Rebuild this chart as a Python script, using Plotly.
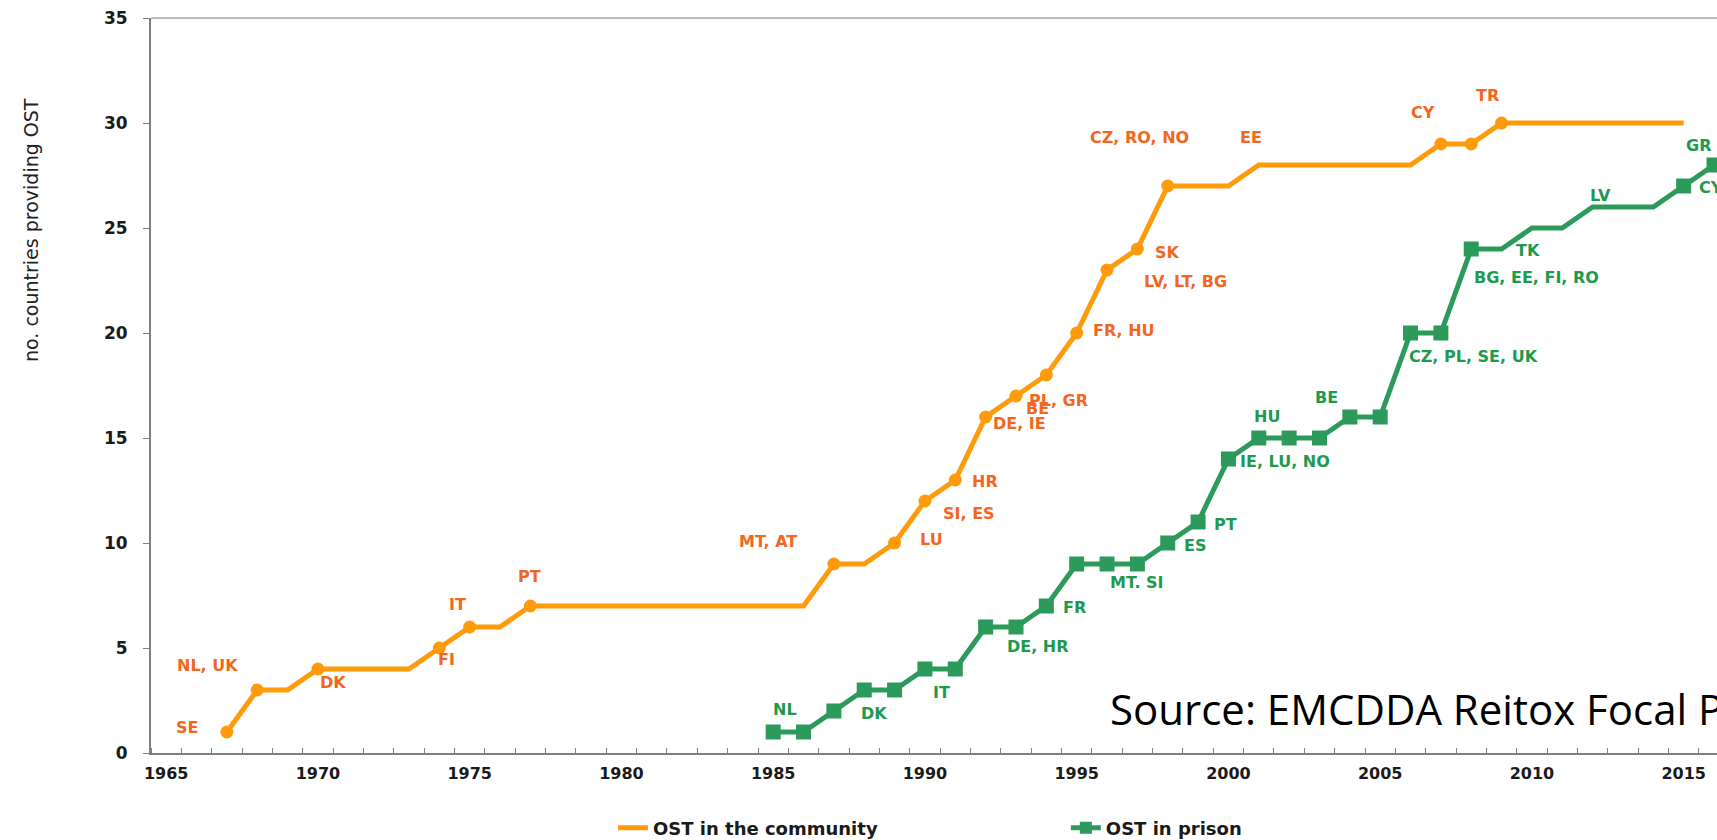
import plotly.graph_objects as go

# ---------------- data ----------------
years_community = list(range(1967, 2016))
ost_community = [1, 3, 3, 4, 4, 4, 4, 5, 6, 6,
                 7, 7, 7, 7, 7, 7, 7, 7, 7, 7,
                 9, 9, 10, 12, 13, 16, 17, 18, 20, 23, 24,
                 27, 27, 27, 28, 28, 28, 28, 28, 28,
                 29, 29, 30, 30, 30, 30, 30, 30, 30]
community_dot_years = [1967, 1968, 1970, 1974, 1975, 1977, 1987, 1989, 1990, 1991,
                       1992, 1993, 1994, 1995, 1996, 1997, 1998, 2007, 2008, 2009]

years_prison = list(range(1985, 2017))
ost_prison = [1, 1, 2, 3, 3, 4, 4, 6, 6, 7, 9, 9, 9, 10, 11, 14, 15, 15, 15, 16, 16,
              20, 20, 24, 24, 25, 25, 26, 26, 26, 27, 28]
prison_square_years = list(range(1985, 2009)) + [2015, 2016]

community_label_years = [1967, 1968, 1970, 1974, 1975, 1977, 1987, 1989, 1990, 1991,
                         1992, 1993, 1994, 1995, 1996, 1997, 1998, 2001, 2007, 2009]
community_labels = ["SE", "NL, UK", "DK", "FI", "IT", "PT", "MT, AT", "LU", "SI, ES", "HR",
                    "DE, IE", "BE", "PL, GR", "FR, HU", "LV, LT, BG", "SK", "CZ, RO, NO",
                    "EE", "CY", "TR"]

prison_label_years = [1985, 1988, 1990, 1992, 1994, 1996, 1998, 1999, 2000, 2001,
                      2004, 2006, 2008, 2010, 2012, 2015, 2016]
prison_labels = ["NL", "DK", "IT", "DE, HR", "FR", "MT. SI", "ES", "PT", "IE, LU, NO", "HU",
                 "BE", "CZ, PL, SE, UK", "BG, EE, FI, RO", "TK", "LV", "CY", "GR"]

x_tick_years = [1965, 1970, 1975, 1980, 1985, 1990, 1995, 2000, 2005, 2010, 2015]
y_ticks = [0, 5, 10, 15, 20, 25, 30, 35]

# ---------------- label offsets (pixels, dx right, dy down) ----------------
community_offsets = [(-40, -5), (-50, -25), (15, 13), (7, 11), (-12, -23), (-1, -30),
                     (-66, -23), (37, -4), (44, 12), (30, 1), (34, 6), (22, 12), (12, 25),
                     (47, -3), (78, 11), (30, 3), (-28, -49), (-8, -28), (-18, -32), (-14, -28)]
prison_offsets = [(12, -23), (10, 23), (17, 23), (52, 19), (28, 1), (30, 18), (27, 2),
                  (27, 2), (57, 2), (8, -22), (-23, -20), (63, 23), (65, 28), (-4, 22),
                  (8, -12), (27, 1), (-16, -20)]

# ---------------- styles ----------------
ORANGE_LINE = "#FF9A0A"
ORANGE_TEXT = "#F3661E"
GREEN_LINE = "#2B9A5B"
GREEN_TEXT = "#1E9A4F"
AXIS_COLOR = "#7F7F7F"
BOLD = "DejaVu Sans"

comm_map = dict(zip(years_community, ost_community))
prison_map = dict(zip(years_prison, ost_prison))

fig = go.Figure()

fig.add_trace(go.Scatter(
    x=years_community, y=ost_community, mode="lines",
    line=dict(color=ORANGE_LINE, width=5),
    name="OST in the community", legend="legend", hoverinfo="skip"))
fig.add_trace(go.Scatter(
    x=community_dot_years, y=[comm_map[y] for y in community_dot_years], mode="markers",
    marker=dict(color=ORANGE_LINE, size=13, symbol="circle"),
    showlegend=False, hoverinfo="skip"))

fig.add_trace(go.Scatter(
    x=years_prison, y=ost_prison, mode="lines",
    line=dict(color=GREEN_LINE, width=5),
    showlegend=False, hoverinfo="skip"))
fig.add_trace(go.Scatter(
    x=prison_square_years, y=[prison_map[y] for y in prison_square_years], mode="markers",
    marker=dict(color=GREEN_LINE, size=15, symbol="square"),
    showlegend=False, hoverinfo="skip"))
# legend entry for prison (line + square)
fig.add_trace(go.Scatter(
    x=[None], y=[None], mode="lines+markers",
    line=dict(color=GREEN_LINE, width=5),
    marker=dict(color=GREEN_LINE, size=12, symbol="square"),
    name="OST in prison", legend="legend2", hoverinfo="skip"))

annotations = []
for yr, txt, (dx, dy) in zip(community_label_years, community_labels, community_offsets):
    annotations.append(dict(
        x=yr, y=comm_map[yr], xref="x", yref="y", text=txt, showarrow=False,
        xshift=dx, yshift=-dy, xanchor="center", yanchor="middle",
        font=dict(family=BOLD, size=16, color=ORANGE_TEXT, weight="bold")))
for yr, txt, (dx, dy) in zip(prison_label_years, prison_labels, prison_offsets):
    annotations.append(dict(
        x=yr, y=prison_map[yr], xref="x", yref="y", text=txt, showarrow=False,
        xshift=dx, yshift=-dy, xanchor="center", yanchor="middle",
        font=dict(family=BOLD, size=16, color=GREEN_TEXT, weight="bold")))

# y-axis title (placed high, as in the original)
annotations.append(dict(
    x=-0.0766, y=0.7116, xref="paper", yref="paper", text="no. countries providing OST",
    textangle=-90, showarrow=False, xanchor="center", yanchor="middle",
    font=dict(family="DejaVu Sans", size=19, color="#222222")))

# source overlay
annotations.append(dict(
    x=0.611, y=0.0612, xref="paper", yref="paper",
    text="Source: EMCDDA Reitox Focal Points", showarrow=False,
    xanchor="left", yanchor="middle",
    font=dict(family="Open Sans", size=42, color="#000000")))

fig.update_layout(
    width=1717, height=840,
    margin=dict(l=151, r=0, t=18, b=87, autoexpand=False),
    paper_bgcolor="white", plot_bgcolor="white",
    annotations=annotations,
    shapes=[dict(type="line", xref="paper", yref="paper", x0=0, x1=1, y0=1, y1=1,
                 line=dict(color=AXIS_COLOR, width=1))],
    legend=dict(orientation="h", x=0.295, y=-0.102, xanchor="left", yanchor="middle",
                bgcolor="rgba(0,0,0,0)",
                font=dict(family=BOLD, size=18, color="#1A1A1A", weight="bold")),
    legend2=dict(orientation="h", x=0.5842, y=-0.102, xanchor="left", yanchor="middle",
                 bgcolor="rgba(0,0,0,0)",
                 font=dict(family=BOLD, size=18, color="#1A1A1A", weight="bold")),
    xaxis=dict(
        range=[1964.5, 1964.5 + 1566 / 30.35],
        tickmode="array", tickvals=x_tick_years, ticktext=[str(v) for v in x_tick_years],
        ticks="", showgrid=False, zeroline=False,
        showline=True, linecolor=AXIS_COLOR, linewidth=2,
        ticklabelstandoff=5,
        tickfont=dict(family=BOLD, size=16, color="#1A1A1A", weight="bold"),
        minor=dict(tickmode="array",
                   tickvals=[y + 0.5 for y in range(1964, 2017)],
                   ticks="inside", ticklen=5, tickcolor=AXIS_COLOR, tickwidth=1,
                   showgrid=False),
    ),
    yaxis=dict(
        range=[0, 35], tickmode="array", tickvals=y_ticks,
        ticks="outside", ticklen=6, tickcolor=AXIS_COLOR, tickwidth=1,
        showgrid=False, zeroline=False,
        showline=True, linecolor=AXIS_COLOR, linewidth=2,
        ticklabelstandoff=12, ticklabeloverflow="allow",
        tickfont=dict(family=BOLD, size=17, color="#1A1A1A", weight="bold"),
    ),
)

# remove the default page margin so the figure fills the window exactly
fig.write_html(
    "out.html",
    config={"displayModeBar": False},
    post_script="document.documentElement.style.margin='0';"
                "document.body.style.margin='0';"
                "document.documentElement.style.overflow='hidden';"
                "document.body.style.overflow='hidden';")
